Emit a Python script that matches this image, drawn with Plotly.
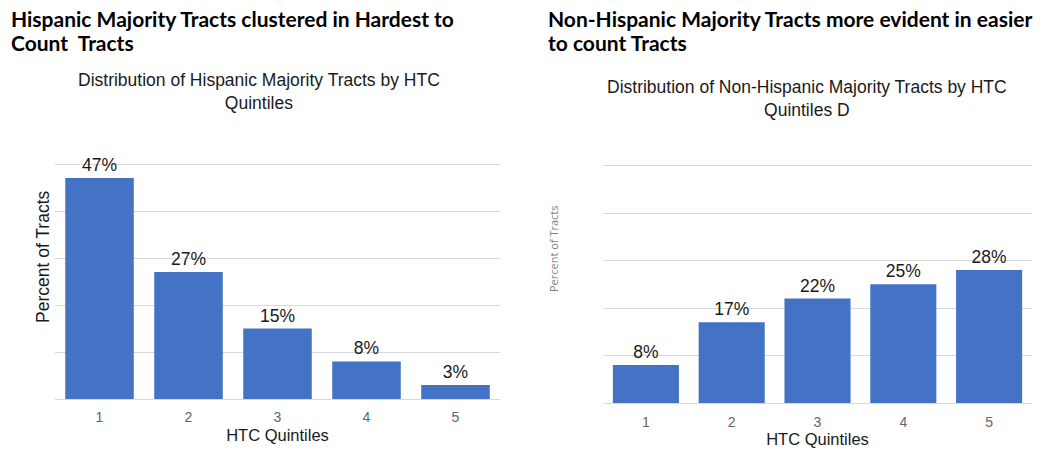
import plotly.graph_objects as go

quintiles = ["1", "2", "3", "4", "5"]
hispanic_pct = [47, 27, 15, 8, 3]
non_hispanic_pct = [8, 17, 22, 25, 28]

left_header = ["Hispanic Majority Tracts clustered in Hardest to", "Count  Tracts"]
right_header = ["Non-Hispanic Majority Tracts more evident in easier", "to count Tracts"]
left_title = "Distribution of Hispanic Majority Tracts by HTC<br>Quintiles"
right_title = "Distribution of Non-Hispanic Majority Tracts by HTC<br>Quintiles D"

W, H = 1048, 451
BAR = "#4472C4"
GRID = "#d9d9d9"

def px_x(p):
    return p / W

def px_y(p):
    return 1 - p / H

fig = go.Figure()
fig.add_trace(go.Bar(x=quintiles, y=hispanic_pct, xaxis="x", yaxis="y",
                     marker=dict(color=BAR, line=dict(width=0)),
                     text=[f"{v}%" for v in hispanic_pct], textposition="outside",
                     textfont=dict(family="Arial", size=17.5, color="#1a1a1a"),
                     cliponaxis=False, showlegend=False))
fig.add_trace(go.Bar(x=quintiles, y=non_hispanic_pct, xaxis="x2", yaxis="y2",
                     marker=dict(color=BAR, line=dict(width=0)),
                     text=[f"{v}%" for v in non_hispanic_pct], textposition="outside",
                     textfont=dict(family="Arial", size=17.5, color="#1a1a1a"),
                     cliponaxis=False, showlegend=False))

yax = dict(range=[0, 60], dtick=10, showgrid=True, gridcolor=GRID, gridwidth=1,
           zeroline=True, zerolinecolor=GRID, zerolinewidth=1, showticklabels=False,
           showline=False, ticks="", fixedrange=True)
fig.update_layout(
    width=W, height=H, margin=dict(l=0, r=0, t=0, b=0),
    paper_bgcolor="white", plot_bgcolor="white",
    bargap=0.23,
    font=dict(family="Arial"),
    xaxis=dict(domain=[px_x(55), px_x(500)], anchor="y", showgrid=False, showline=False,
               ticks="outside", ticklen=5, tickcolor="rgba(0,0,0,0)",
               tickfont=dict(family="Arial", size=14, color="#5a6478"),
               title=dict(text="HTC Quintiles", font=dict(family="Arial", size=16.5, color="#1a1a1a"), standoff=5)),
    yaxis=dict(domain=[px_y(399), px_y(117)], anchor="x", **yax),
    xaxis2=dict(domain=[px_x(603), px_x(1032)], anchor="y2", showgrid=False, showline=False,
                ticks="outside", ticklen=6, tickcolor="rgba(0,0,0,0)",
                tickfont=dict(family="Arial", size=14, color="#666666"),
                title=dict(text="HTC Quintiles", font=dict(family="Arial", size=16.5, color="#1a1a1a"), standoff=2)),
    yaxis2=dict(domain=[px_y(403), px_y(118)], anchor="x2", **yax),
)

ann = []
for i, line in enumerate(left_header):
    ann.append(dict(text=f"<b>{line}</b>", x=px_x(9), y=px_y(18 + 24 * i), xref="paper", yref="paper",
                    xanchor="left", yanchor="middle", align="left", showarrow=False,
                    font=dict(family="Lato", size=21, color="#000000")))
for i, line in enumerate(right_header):
    ann.append(dict(text=f"<b>{line}</b>", x=px_x(546), y=px_y(18 + 24 * i), xref="paper", yref="paper",
                    xanchor="left", yanchor="middle", align="left", showarrow=False,
                    font=dict(family="Lato", size=21, color="#000000")))
ann.append(dict(text=left_title, x=px_x(259), y=px_y(68), xref="paper", yref="paper",
                xanchor="center", yanchor="top", align="center", showarrow=False,
                font=dict(family="Arial", size=17.5, color="#1a1a1a")))
ann.append(dict(text=right_title, x=px_x(807), y=px_y(75), xref="paper", yref="paper",
                xanchor="center", yanchor="top", align="center", showarrow=False,
                font=dict(family="Arial", size=17.5, color="#1a1a1a")))
ann.append(dict(text="Percent of Tracts", x=px_x(43), y=px_y(257), xref="paper", yref="paper",
                xanchor="center", yanchor="middle", textangle=-90, showarrow=False,
                font=dict(family="Arial", size=17.5, color="#1a1a1a")))
ann.append(dict(text="Percent of Tracts", x=px_x(553), y=px_y(249), xref="paper", yref="paper",
                xanchor="center", yanchor="middle", textangle=-90, showarrow=False,
                font=dict(family="Open Sans", size=11, color="#7f7f7f")))
fig.update_layout(annotations=ann)

fig.write_html("out.html")
